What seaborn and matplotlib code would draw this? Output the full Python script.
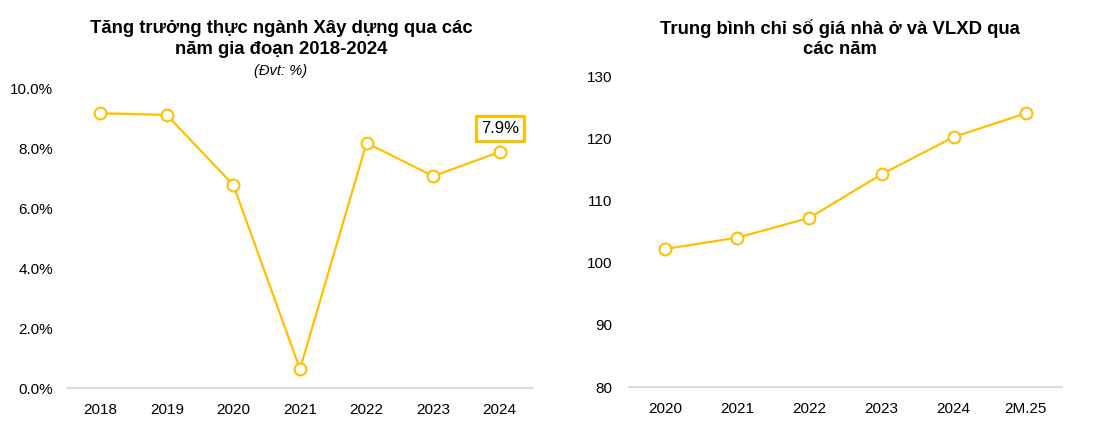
import matplotlib
matplotlib.use("Agg")
import matplotlib.pyplot as plt
import seaborn as sns
import pandas as pd
from matplotlib.ticker import FuncFormatter

years_left = ["2018", "2019", "2020", "2021", "2022", "2023", "2024"]
growth = [9.16, 9.10, 6.76, 0.63, 8.17, 7.06, 7.87]

years_right = ["2020", "2021", "2022", "2023", "2024", "2M.25"]
price_index = [102.2, 104.0, 107.2, 114.2, 120.2, 124.0]

title_left = "Tăng trưởng thực ngành Xây dựng qua các\nnăm gia đoạn 2018-2024"
subtitle_left = "(Đvt: %)"
title_right = "Trung bình chỉ số giá nhà ở và VLXD qua\ncác năm"
label_2024 = "7.9%"

sns.set_theme(style="white")
plt.rcParams['font.family'] = ['Liberation Sans', 'DejaVu Sans']
plt.rcParams['text.color'] = 'black'
plt.rcParams['xtick.color'] = 'black'
plt.rcParams['ytick.color'] = 'black'

YEL = "#FFC000"
fig = plt.figure(figsize=(11.18, 4.25), dpi=100)
ax1 = fig.add_axes([67/1118, 1-388/425, (533-67)/1118, (388-88)/425])
ax2 = fig.add_axes([629/1118, 1-387/425, (1062-629)/1118, (387-76)/425])

dfl = pd.DataFrame({"year": years_left, "v": growth})
dfr = pd.DataFrame({"year": years_right, "v": price_index})

for ax, df in ((ax1, dfl), (ax2, dfr)):
    sns.lineplot(data=df, x="year", y="v", ax=ax, color=YEL, linewidth=1.6,
                 marker="o", markersize=8.5, markerfacecolor="white",
                 markeredgecolor=YEL, markeredgewidth=1.5, sort=False)
    ax.set_xlabel("")
    ax.set_ylabel("")
    for s in ("top", "right", "left"):
        ax.spines[s].set_visible(False)
    ax.spines["bottom"].set_color("#D9D9D9")
    ax.spines["bottom"].set_linewidth(1.3)
    ax.tick_params(axis="both", length=0, labelsize=11, colors="black", labelcolor="black")
    ax.tick_params(axis="y", pad=10)
    ax.tick_params(axis="x", pad=10.5)
    ax.set_xlim(-0.5, len(df) - 0.5)
    ax.grid(False)

ax1.set_ylim(0, 10)
ax1.set_yticks([0, 2, 4, 6, 8, 10])
ax1.yaxis.set_major_formatter(FuncFormatter(lambda v, p: f"{v:.1f}%"))
ax2.set_ylim(80, 130)
ax2.set_yticks([80, 90, 100, 110, 120, 130])
ax2.tick_params(axis="y", pad=12)

ax1.annotate(label_2024, xy=(6, growth[-1]), xytext=(0, 16.5), textcoords="offset points",
             ha="center", va="center", fontsize=12, color="black",
             bbox=dict(boxstyle="square,pad=0.3", fc="white", ec=YEL, lw=2.2))

fig.text(281/1118, 1-39/425, title_left, ha="center", va="center", fontsize=13.3,
         fontweight="bold", linespacing=1.25, color="black")
fig.text(281/1118, 1-71/425, subtitle_left, ha="center", va="center", fontsize=10.5,
         fontstyle="italic", color="black")
fig.text(840/1118, 1-39/425, title_right, ha="center", va="center", fontsize=13.3,
         fontweight="bold", linespacing=1.25, color="black")

fig.savefig("out.png", dpi=100)
